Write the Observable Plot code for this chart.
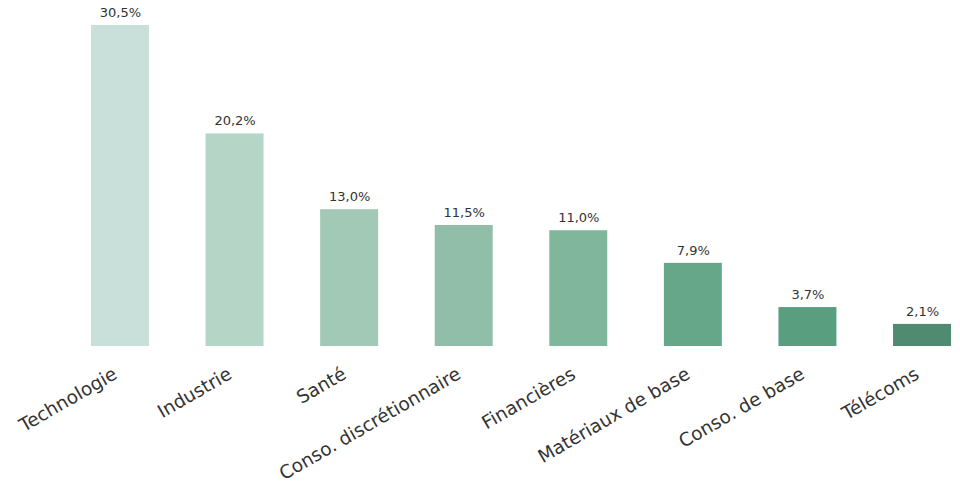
<!DOCTYPE html>
<html><head><meta charset="utf-8">
<script src="https://cdn.jsdelivr.net/npm/d3@7"></script>
<script src="https://cdn.jsdelivr.net/npm/@observablehq/plot@0.6"></script>
<style>body{margin:0;background:#fff;} svg{display:block}</style>
</head><body><div id="chart"></div>
<script>
const sectors = ["Technologie","Industrie","Santé","Conso. discrétionnaire","Financières","Matériaux de base","Conso. de base","Télécoms"];
const weights = [30.5,20.2,13.0,11.5,11.0,7.9,3.7,2.1];
const colors = ["#c9e0da","#b5d6c7","#a2c9b6","#90bea8","#80b79c","#66a78a","#5a9e80","#508a71"];
const data = sectors.map((s,i)=>({sector:s, value:weights[i], color:colors[i]}));
const fmt = v => v.toFixed(1).replace(".", ",") + "%";
const chart = Plot.plot({
  width: 960, height: 485,
  marginLeft: 91, marginRight: 9, marginTop: 25, marginBottom: 139,
  style: {fontFamily: "DejaVu Sans", background: "#fff"},
  x: {domain: sectors, paddingInner: 0.494, paddingOuter: 0, align: 0.5, round: false, label: null},
  y: {domain: [0, 30.5], axis: null},
  marks: [
    Plot.barY(data, {x: "sector", y: "value", fill: "color"}),
    Plot.text(data, {x: "sector", y: "value", text: d => fmt(d.value), dy: -13, fontSize: 13, fill: "#333"}),
    Plot.axisX({tickSize: 0, tickRotate: -30, tickPadding: 22, dx: -5, dy: 4, fontSize: 18.5, fill: "#333", textAnchor: "end"})
  ]
});
document.getElementById("chart").append(chart);
</script></body></html>
